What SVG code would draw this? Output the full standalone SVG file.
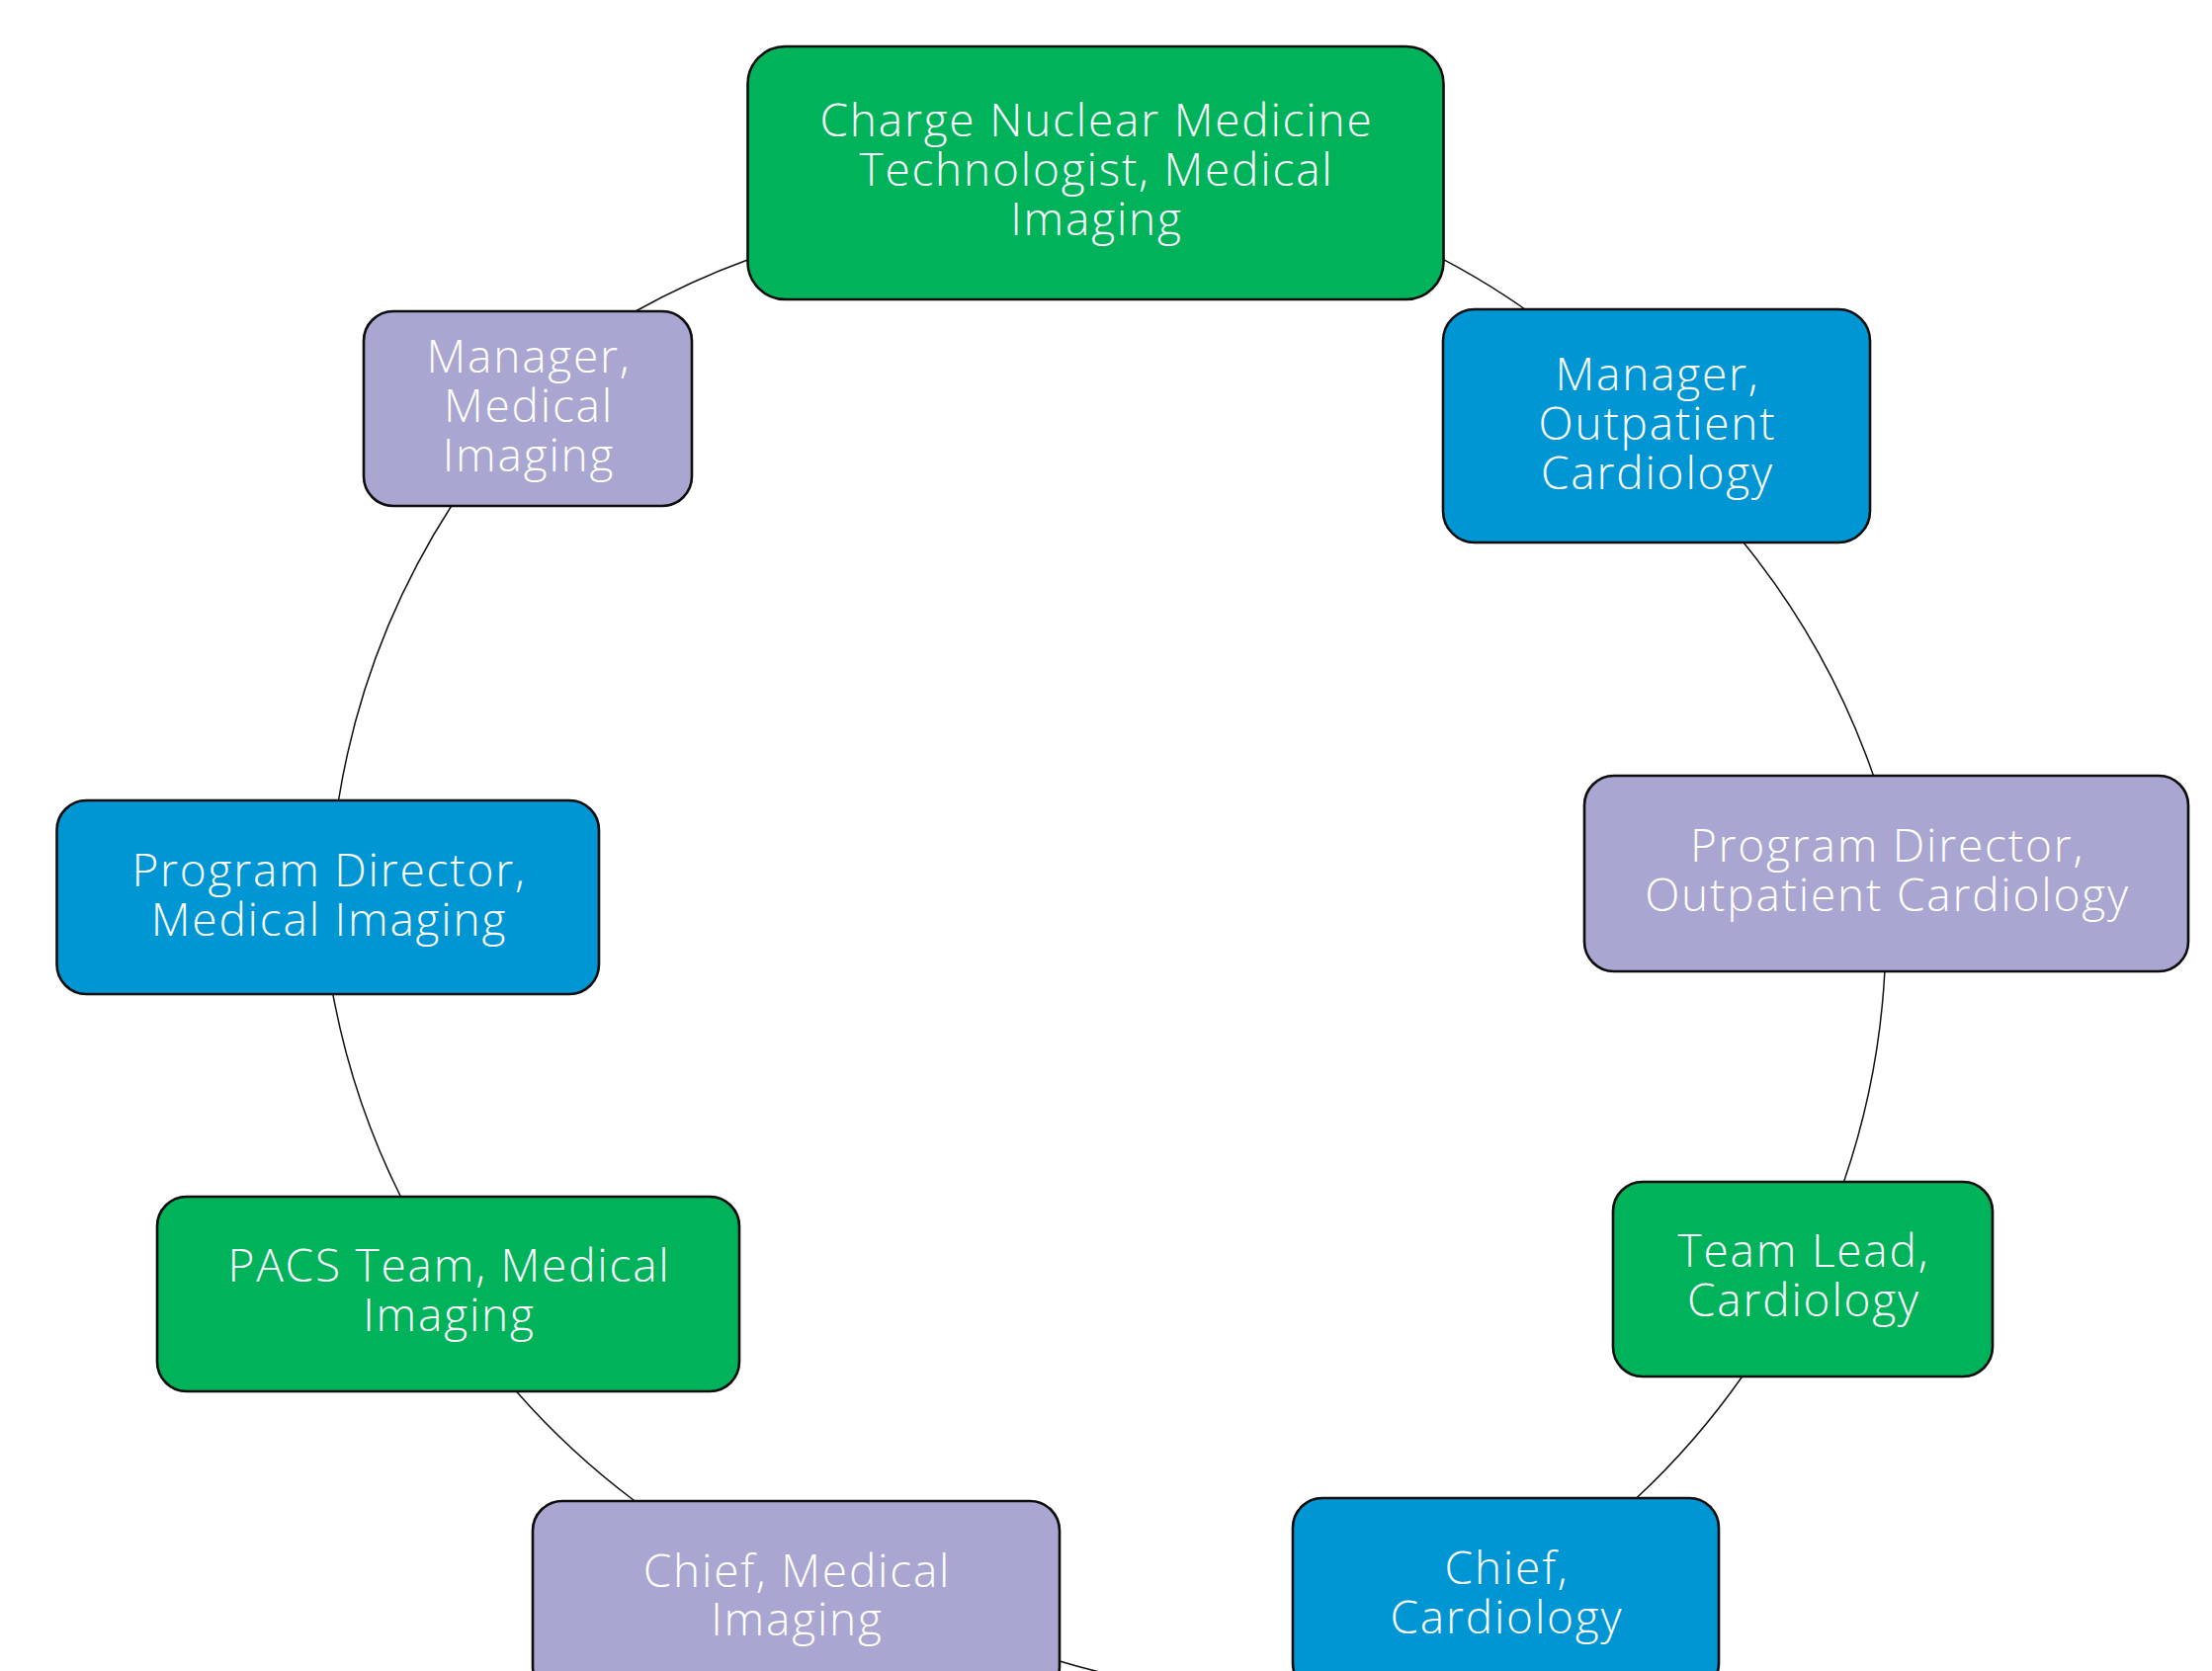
<svg xmlns="http://www.w3.org/2000/svg" width="2238" height="1691" viewBox="0 0 2238 1691">
<style>
.node rect{stroke:#0d0d0d;stroke-width:2.6}
.g rect{fill:#00b25a}
.b rect{fill:#0096d4}
.p rect{fill:#a9a7d1}
.node text{font-family:"Open Sans","Liberation Sans",sans-serif;font-weight:300;font-size:46px;letter-spacing:1.8px;fill:#ffffff;text-anchor:middle}
.edges path{fill:none;stroke:#111;stroke-width:1.5}
</style>
<rect width="2238" height="1691" fill="#ffffff"/>
<g id="connectors" class="edges">
<path d="M643,315 A780,780 0 0 1 757,262.7"/>
<path d="M1460.5,262.7 A780,780 0 0 1 1543,313"/>
<path d="M342.5,810 A780,780 0 0 1 456.7,512"/>
<path d="M1764,549 A780,780 0 0 1 1895.5,785"/>
<path d="M405.4,1211 A780,780 0 0 1 336.8,1006"/>
<path d="M1906.9,983 A780,780 0 0 1 1865.5,1196"/>
<path d="M642.3,1519 A780,780 0 0 1 522.4,1408"/>
<path d="M1762.7,1393 A780,780 0 0 1 1655.7,1516"/>
<path d="M1200,1708 A780,780 0 0 1 1072,1681"/>
</g>
<g id="node-charge-nuclear" class="node g">
<rect x="756.5" y="47" width="704" height="256" rx="38"/>
<text x="1109.5" y="138">Charge Nuclear Medicine</text>
<text x="1109.5" y="188">Technologist, Medical</text>
<text x="1109.5" y="238">Imaging</text>
</g>
<g id="node-manager-mi" class="node p">
<rect x="368" y="315" width="332" height="197" rx="30"/>
<text x="535" y="377">Manager,</text>
<text x="535" y="427">Medical</text>
<text x="535" y="477">Imaging</text>
</g>
<g id="node-manager-oc" class="node b">
<rect x="1460" y="313" width="432" height="236" rx="32"/>
<text x="1677" y="395">Manager,</text>
<text x="1677" y="445">Outpatient</text>
<text x="1677" y="495">Cardiology</text>
</g>
<g id="node-pd-oc" class="node p">
<rect x="1603" y="785" width="611" height="198" rx="30"/>
<text x="1909.5" y="872">Program Director,</text>
<text x="1909.5" y="922">Outpatient Cardiology</text>
</g>
<g id="node-pd-mi" class="node b">
<rect x="57.5" y="810" width="548.5" height="196" rx="30"/>
<text x="333" y="897">Program Director,</text>
<text x="333" y="947">Medical Imaging</text>
</g>
<g id="node-pacs" class="node g">
<rect x="159" y="1211" width="589" height="197" rx="30"/>
<text x="454.5" y="1297">PACS Team, Medical</text>
<text x="454.5" y="1347">Imaging</text>
</g>
<g id="node-team-lead" class="node g">
<rect x="1632" y="1196" width="384" height="197" rx="30"/>
<text x="1825" y="1282">Team Lead,</text>
<text x="1825" y="1332">Cardiology</text>
</g>
<g id="node-chief-mi" class="node p">
<rect x="539" y="1519" width="533" height="197" rx="30"/>
<text x="806.5" y="1606">Chief, Medical</text>
<text x="806.5" y="1655">Imaging</text>
</g>
<g id="node-chief-c" class="node b">
<rect x="1308" y="1516" width="431" height="197" rx="30"/>
<text x="1524.5" y="1603">Chief,</text>
<text x="1524.5" y="1653">Cardiology</text>
</g>
</svg>
